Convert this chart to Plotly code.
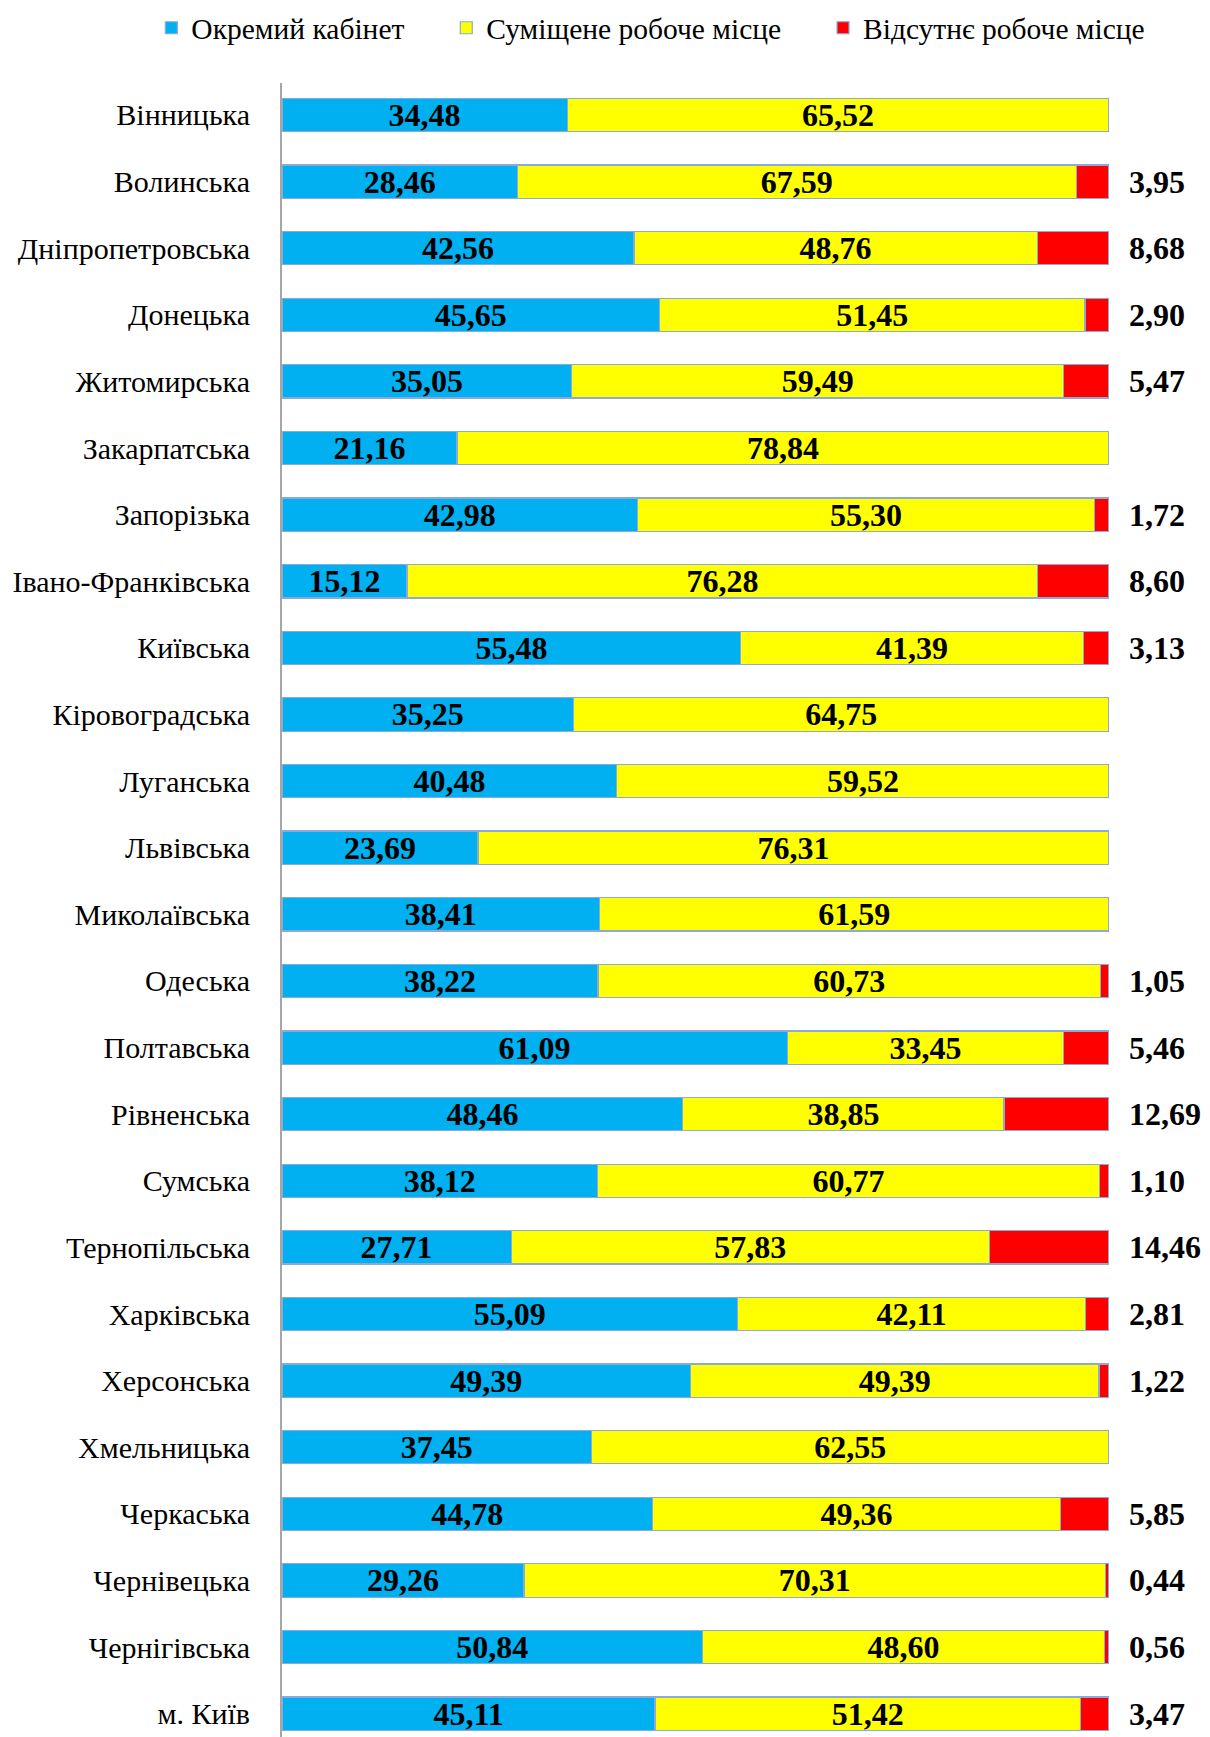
import plotly.graph_objects as go

regions = ["Вінницька", "Волинська", "Дніпропетровська", "Донецька", "Житомирська",
           "Закарпатська", "Запорізька", "Івано-Франківська", "Київська", "Кіровоградська",
           "Луганська", "Львівська", "Миколаївська", "Одеська", "Полтавська",
           "Рівненська", "Сумська", "Тернопільська", "Харківська", "Херсонська",
           "Хмельницька", "Черкаська", "Чернівецька", "Чернігівська", "м. Київ"]

separate_office = [34.48, 28.46, 42.56, 45.65, 35.05, 21.16, 42.98, 15.12, 55.48, 35.25,
                   40.48, 23.69, 38.41, 38.22, 61.09, 48.46, 38.12, 27.71, 55.09, 49.39,
                   37.45, 44.78, 29.26, 50.84, 45.11]
combined_place = [65.52, 67.59, 48.76, 51.45, 59.49, 78.84, 55.30, 76.28, 41.39, 64.75,
                  59.52, 76.31, 61.59, 60.73, 33.45, 38.85, 60.77, 57.83, 42.11, 49.39,
                  62.55, 49.36, 70.31, 48.60, 51.42]
no_place = [0, 3.95, 8.68, 2.90, 5.47, 0, 1.72, 8.60, 3.13, 0,
            0, 0, 0, 1.05, 5.46, 12.69, 1.10, 14.46, 2.81, 1.22,
            0, 5.85, 0.44, 0.56, 3.47]

series_names = ["Окремий кабінет", "Суміщене робоче місце", "Відсутнє робоче місце"]
series_colors = ["#00B0F0", "#FFFF00", "#FF0000"]

NB = "\u00a0"
legend_pad = [NB * 5, NB * 5, ""]


def fmt(v):
    return f"{v:.2f}".replace(".", ",")


SERIF = "Liberation Serif"
LABEL_FONT = dict(family=SERIF, size=32, color="black", weight="bold")

fig = go.Figure()
for name, vals, color, pad, show_text in zip(series_names,
                                             [separate_office, combined_place, no_place],
                                             series_colors, legend_pad, [True, True, False]):
    fig.add_trace(go.Bar(
        y=regions, x=vals, orientation="h", name=name + pad,
        marker=dict(color=color, line=dict(color="#8DA9D8", width=1.2)),
        text=[fmt(v) for v in vals] if show_text else None,
        textposition="inside" if show_text else "none",
        insidetextanchor="middle", textangle=0, constraintext="none",
        textfont=LABEL_FONT,
    ))

for reg, v in zip(regions, no_place):
    if v > 0:
        fig.add_annotation(x=100, y=reg, xref="x", yref="y", text=fmt(v),
                           showarrow=False, xanchor="left", xshift=18,
                           font=LABEL_FONT)

# page body has an 8px default margin, so the figure is 8px smaller than the window
fig.update_layout(
    barmode="stack",
    bargap=0.5,
    width=1202, height=1729,
    margin=dict(l=274, r=101, t=75, b=0, autoexpand=False),
    paper_bgcolor="white", plot_bgcolor="white",
    font=dict(family=SERIF, color="black"),
    legend=dict(orientation="h", xref="paper", yref="paper",
                x=-0.158, y=1.0332, xanchor="left", yanchor="middle",
                font=dict(family=SERIF, size=29.5, color="black"),
                itemwidth=30, traceorder="normal"),
    xaxis=dict(range=[0, 100], visible=False, showgrid=False, zeroline=False),
    yaxis=dict(categoryorder="array", categoryarray=regions,
               range=[24.35, -0.48], showline=True, linecolor="#A6A6A6", linewidth=2,
               showgrid=False, zeroline=False, ticks="", ticklabelstandoff=24,
               tickfont=dict(family=SERIF, size=30, color="black")),
)

fig.write_html("out.html")
